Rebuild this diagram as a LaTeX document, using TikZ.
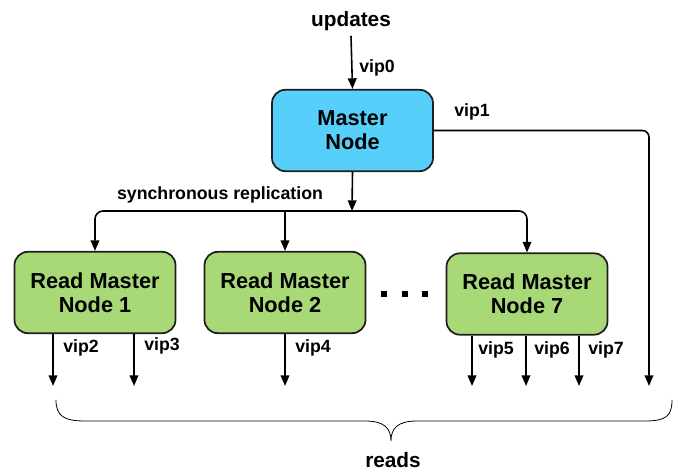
\documentclass[tikz,border=0pt]{standalone}
\usepackage{fontspec}
\setmainfont{Liberation Sans}
\usetikzlibrary{arrows.meta}
\definecolor{masterblue}{RGB}{86,207,251}
\definecolor{readgreen}{RGB}{169,217,119}
\definecolor{edgegray}{RGB}{30,30,30}
\begin{document}
\begin{tikzpicture}[x=0.75pt,y=-0.75pt,
  box/.style={draw=edgegray,line width=1.3pt,rounded corners=10pt,align=center,
    minimum width=120.75pt,minimum height=61pt,inner sep=0pt,
    font=\bfseries\fontsize{16.3}{18}\selectfont},
  arr/.style={line width=1.2pt,-{Triangle[length=8pt,width=6.5pt]}},
  lbl/.style={font=\bfseries\fontsize{13.3}{15}\selectfont,inner sep=0pt},
  big/.style={font=\bfseries\fontsize{15.6}{18}\selectfont,inner sep=0pt}]
\useasboundingbox (0,0) rectangle (674,470);
% nodes
\node[box,fill=masterblue] (master) at (352.5,130.5) {Master\\Node};
\node[box,fill=readgreen] (n1) at (95,292.5) {Read Master\\Node 1};
\node[box,fill=readgreen] (n2) at (285,292.5) {Read Master\\Node 2};
\node[box,fill=readgreen] (n7) at (527,294) {Read Master\\Node 7};
\node[big] (upd) at (351,21) {updates};
\node[big] (reads) at (393,460) {reads};
\node[lbl] (sync) at (220,195) {synchronous replication};
% labels
\node[lbl] (l0) at (377,68) {vip0};
\node[lbl] (l1) at (472,112) {vip1};
\node[lbl] (l2) at (81,348) {vip2};
\node[lbl] (l3) at (162,346) {vip3};
\node[lbl] (l4) at (313,348) {vip4};
\node[lbl] (l5) at (496,350) {vip5};
\node[lbl] (l6) at (552,350) {vip6};
\node[lbl] (l7) at (606,350) {vip7};
% coordinates
\coordinate (bus) at (352,211);
\coordinate (r1) at (649,386);
\coordinate (r2) at (53,386);
\coordinate (r3) at (134,386);
\coordinate (r4) at (285,386);
\coordinate (r5) at (472,386);
\coordinate (r6) at (526,386);
\coordinate (r7) at (579,386);
% connectors
\draw[arr] (upd.south) ++(0,5) -- (master.north);
\draw[arr,rounded corners=5pt] (master.east) -| (r1);
\draw[arr] (master.south) -- (bus);
\draw[arr,rounded corners=6pt] (bus) -| (n1.north);
\draw[arr,rounded corners=6pt] (bus) -| (n7.north);
\draw[arr] (bus -| n2.north) -- (n2.north);
\draw[arr] (n1.south -| r2) -- (r2);
\draw[arr] (n1.south -| r3) -- (r3);
\draw[arr] (n2.south -| r4) -- (r4);
\draw[arr] (n7.south -| r5) -- (r5);
\draw[arr] (n7.south -| r6) -- (r6);
\draw[arr] (n7.south -| r7) -- (r7);
% dots
\foreach \x in {384,404.5,424.5} \fill[black] (\x-3,290.5) rectangle (\x+3,296.5);
% brace
\draw[line width=0.6pt] (56,400) .. controls (56,416) and (64,421) .. (85,421)
  -- (365,421) .. controls (384,421) and (391,428) .. (391,441)
  .. controls (391,428) and (398,421) .. (417,421)
  -- (645,421) .. controls (666,421) and (672,416) .. (672,400);
\end{tikzpicture}
\end{document}
